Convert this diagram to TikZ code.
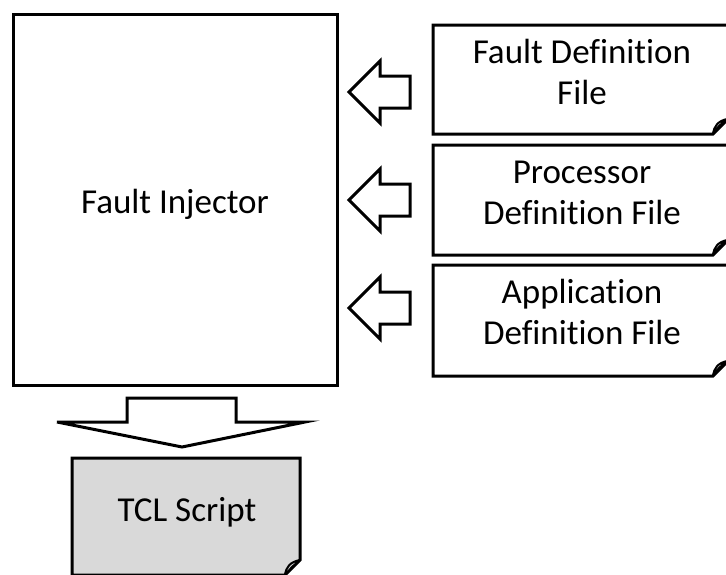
\documentclass[tikz,border=0pt]{standalone}
\usepackage{fontspec}
\setmainfont{Carlito}[Ligatures=NoCommon]
\definecolor{tclgray}{HTML}{D9D9D9}
\begin{document}
\begin{tikzpicture}[x=1pt,y=-1pt, line width=3pt, line join=miter,
  lbl/.style={font=\fontsize{35}{41}\selectfont, align=center, inner sep=0pt},
  blk/.style={draw=black, fill=white},
  flap/.style={draw=black, line width=2pt, fill=white, line join=round}]
\useasboundingbox (0,0) rectangle (726,574);

% Fault Injector
\node[draw, line width=3pt, minimum width=324pt, minimum height=371pt] (fi) at (175,199.5) {};
\node[lbl] (fit) at (175,204) {Fault Injector};

% Definition files
\draw[blk] (433,25) -- (728,25) -- (728,119) -- (713,134) -- (433,134) -- cycle;
\draw[flap] (713,134) .. controls (714,126) and (718,121) .. (727,119) -- (719,126) -- cycle;
\node[lbl] (fdf) at (582,72) {Fault Definition\\File};

\draw[blk] (433,145) -- (728,145) -- (728,240) -- (713,255) -- (433,255) -- cycle;
\draw[flap] (713,255) .. controls (714,247) and (718,242) .. (727,240) -- (719,247) -- cycle;
\node[lbl] (pdf) at (582,193) {Processor\\Definition File};

\draw[blk] (433,265) -- (728,265) -- (728,361) -- (713,376) -- (433,376) -- cycle;
\draw[flap] (713,376) .. controls (714,368) and (718,363) .. (727,361) -- (719,368) -- cycle;
\node[lbl] (adf) at (582,312) {Application\\Definition File};

% Left block arrows
\foreach \c in {92,200,308}{
  \draw[blk] (349,\c) -- (380,\c-31) -- (380,\c-16) -- (410,\c-16) -- (410,\c+16) -- (380,\c+16) -- (380,\c+31) -- cycle;
}

% Down block arrow
\draw[blk] (127,398) -- (236,398) -- (236,422) -- (305,422) -- (182,447) -- (57,422) -- (127,422) -- cycle;

% TCL Script
\draw[draw=black, fill=tclgray] (72,458) -- (300,458) -- (300,560) -- (285,575) -- (72,575) -- cycle;
\draw[flap, fill=tclgray] (285,575) .. controls (286,567) and (290,562) .. (300,560) -- (292,567) -- cycle;
\node[lbl] (tcl) at (187,512) {TCL Script};
\end{tikzpicture}
\end{document}
